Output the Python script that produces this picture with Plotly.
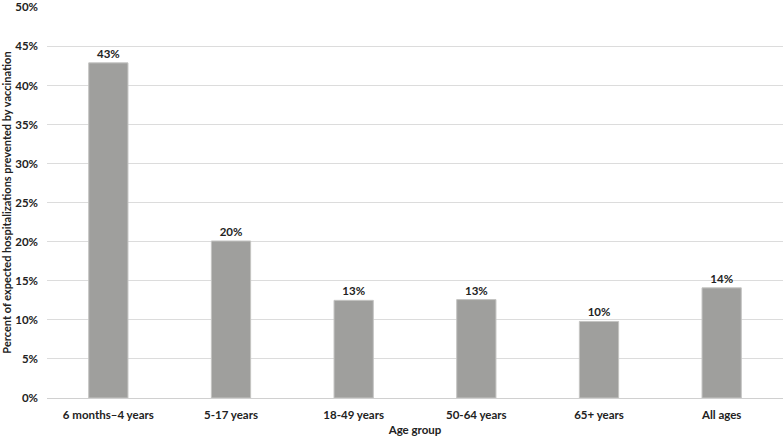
import plotly.graph_objects as go

categories = ["6 months\u20134 years", "5-17 years", "18-49 years", "50-64 years", "65+ years", "All ages"]
values = [42.9, 20.1, 12.5, 12.6, 9.8, 14.1]
labels = ["43%", "20%", "13%", "13%", "10%", "14%"]
y_ticks = [0, 5, 10, 15, 20, 25, 30, 35, 40, 45, 50]
y_tick_text = [f"{v}%" for v in y_ticks]

font_family = "Lato, Open Sans, sans-serif"

fig = go.Figure(go.Bar(
    x=categories, y=values, text=labels, textposition="outside",
    textfont=dict(family=font_family, size=11.5, color="#222222", weight="bold"),
    marker=dict(color="#9f9f9d", line=dict(color="#c4c4c2", width=1)),
    cliponaxis=False,
))

fig.update_layout(
    width=783, height=436,
    margin=dict(l=47, r=0, t=7, b=38, autoexpand=False),
    paper_bgcolor="white", plot_bgcolor="white",
    bargap=0.68,
    showlegend=False,
    font=dict(family=font_family, size=11.5, color="#222222"),
    xaxis=dict(
        tickfont=dict(family=font_family, size=11.5, weight="bold", color="#222222"),
        showgrid=False, showline=False, ticks="", automargin=False,
        ticklabelstandoff=8,
        title=dict(text="Age group", font=dict(family=font_family, size=11.5, weight="bold"), standoff=14),
    ),
    yaxis=dict(
        range=[0, 50.05], tickvals=y_ticks, ticktext=y_tick_text, automargin=False,
        tickfont=dict(family=font_family, size=11.5, weight="bold", color="#222222"),
        showgrid=True, gridcolor="#dcdcdc", gridwidth=1,
        zeroline=True, zerolinecolor="#d0d0d0", zerolinewidth=1,
        ticks="", ticklen=0, ticklabelstandoff=8,
        title=dict(text="Percent of expected hospitalizations prevented by vaccination",
                   font=dict(family=font_family, size=11, weight="bold"), standoff=8),
    ),
)

fig.write_html("out.html", post_script="document.body.style.margin='0';",
               config={"displayModeBar": False})
